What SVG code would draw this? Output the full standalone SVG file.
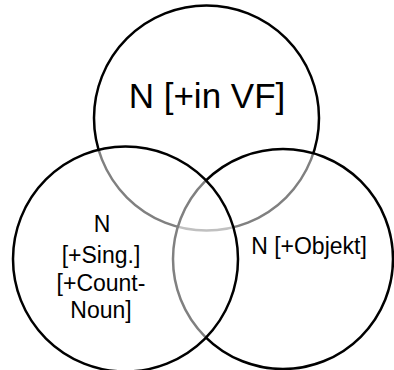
<svg xmlns="http://www.w3.org/2000/svg" width="394" height="370" viewBox="0 0 394 370">
<style>
.c{fill:#ffffff;fill-opacity:0.5;stroke:#000;stroke-width:2.5}
text{font-family:"Liberation Sans",Arial,sans-serif;fill:#000;text-anchor:middle}
.big{font-size:35px}
.sm{font-size:23px}
</style>
<rect width="394" height="370" fill="#fff"/>
<g id="top"><circle class="c" cx="206.5" cy="118" r="112.5"/><text class="big" x="207" y="108">N [+in VF]</text></g>
<g id="right"><circle class="c" cx="283" cy="259" r="110"/><text class="sm" x="309" y="254">N [+Objekt]</text></g>
<g id="left"><circle class="c" cx="125.5" cy="259" r="112.5"/>
<text class="sm"><tspan x="102" y="232">N</tspan><tspan x="101" y="263">[+Sing.]</tspan><tspan x="101" y="291">[+Count-</tspan><tspan x="101" y="318">Noun]</tspan></text></g>
<g id="connectors"/>
</svg>
